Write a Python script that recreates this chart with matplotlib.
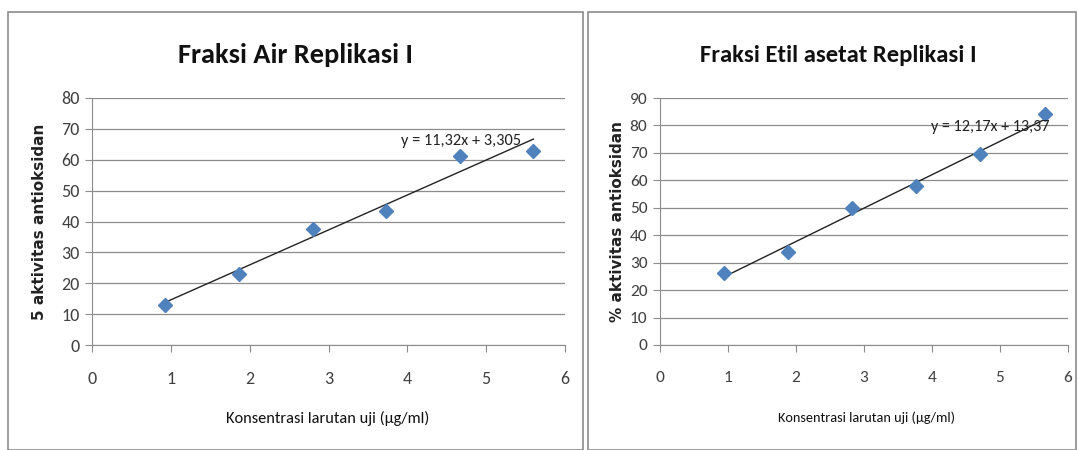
import matplotlib
matplotlib.use("Agg")
import matplotlib.pyplot as plt
from matplotlib import font_manager
from matplotlib.patches import Rectangle
import numpy as np

# ---- data ----
x_air = [0.93, 1.87, 2.80, 3.73, 4.67, 5.60]
y_air = [13.0, 23.0, 37.5, 43.5, 61.3, 62.7]
slope_air, icpt_air = 11.32, 3.305
eq_air = "y = 11,32x + 3,305"

x_etil = [0.94, 1.88, 2.83, 3.77, 4.71, 5.66]
y_etil = [26.3, 34.0, 50.0, 58.0, 69.5, 84.0]
slope_etil, icpt_etil = 12.17, 13.37
eq_etil = "y = 12,17x + 13,37"

title_air = "Fraksi Air Replikasi I"
title_etil = "Fraksi Etil asetat Replikasi I"
ylabel_air = "5 aktivitas antioksidan"
ylabel_etil = "% aktivitas antioksidan"
xlabel = "Konsentrasi larutan uji (µg/ml)"

# ---- font selection: prefer a condensed sans (Calibri-like) ----
ttf = font_manager.fontManager.ttflist
names = {f.name for f in ttf}
cond = {f.name for f in ttf if str(f.stretch) in
        ("condensed", "semi-condensed", "extra-condensed", "ultra-condensed")}
FAM, STRETCH = "Lato", "normal"
picked = False
for cand in ["Carlito", "Liberation Sans Narrow", "Arial Narrow",
             "Roboto Condensed", "Open Sans Condensed"]:
    if cand in names:
        FAM, STRETCH, picked = cand, "normal", True
        break
if not picked:
    for cand in ["Noto Sans", "Open Sans", "Roboto", "Liberation Sans", "DejaVu Sans"]:
        if cand in cond:
            FAM, STRETCH, picked = cand, "condensed", True
            break
if not picked and "Lato" not in names:
    FAM = "DejaVu Sans"
FONT = [FAM, "DejaVu Sans"]

fig = plt.figure(figsize=(10.78, 4.5), dpi=100)
W, H = 1078, 450

# chart frames
for (x0, x1) in [(8, 583), (588, 1076)]:
    fig.patches.append(Rectangle((x0 / W, 0), (x1 - x0) / W, 1 - 12 / H,
                                 transform=fig.transFigure, fill=False,
                                 edgecolor="#8c8c8c", linewidth=1.2))

fit_texts = []  # (text, target width px)

def make(ax, xs, ys, m, b, eq, eqpos, eqw, ymax, title, titlew, ylabel,
         title_x, ylab_x, xlab_x, xlabw, ticksize):
    ax.set_xlim(0, 6)
    ax.set_ylim(0, ymax)
    ax.set_xticks(range(0, 7))
    ax.set_yticks(range(0, ymax + 1, 10))
    ax.grid(axis="y", color="#8c8c8c", linewidth=0.9)
    ax.set_axisbelow(True)
    for s in ["top", "right"]:
        ax.spines[s].set_visible(False)
    for s in ["left", "bottom"]:
        ax.spines[s].set_color("#8c8c8c")
    ax.tick_params(axis="both", colors="#8c8c8c", length=5, labelcolor="#404040",
                   labelsize=ticksize)
    for lab in ax.get_xticklabels() + ax.get_yticklabels():
        lab.set_family(FONT)
        lab.set_stretch(STRETCH)
    ax.tick_params(axis="x", pad=14)
    ax.tick_params(axis="y", pad=4)
    xl = np.array([min(xs), max(xs)])
    ax.plot(xl, m * xl + b, color="#222222", linewidth=1.0, zorder=2)
    ax.plot(xs, ys, linestyle="none", marker="D", markersize=7,
            color="#4F81BD", zorder=3)
    t = ax.text(eqpos[0], eqpos[1], eq, fontsize=12, family=FONT, stretch=STRETCH,
                color="#222222", ha="left", va="center", zorder=4)
    fit_texts.append((t, eqw))
    t = fig.text(title_x / W, 1 - 55 / H, title, fontsize=20, family=FONT,
                 stretch=STRETCH, fontweight="semibold",
                 ha="center", va="center", color="#111111")
    fit_texts.append((t, titlew))
    fig.text(ylab_x / W, 1 - 222 / H, ylabel, fontsize=11, fontweight="bold",
             family=["DejaVu Sans"], rotation=90, ha="center", va="center",
             color="#222222")
    t = fig.text(xlab_x / W, 1 - 418 / H, xlabel, fontsize=11.5, family=FONT,
                 stretch=STRETCH, ha="center", va="center", color="#111111")
    fit_texts.append((t, xlabw))

ax1 = fig.add_axes([92 / W, 1 - 345 / H, 473 / W, 247 / H])
make(ax1, x_air, y_air, slope_air, icpt_air, eq_air, (3.92, 66.0), 120, 80,
     title_air, 236, ylabel_air, 296, 40, 328, 205, 13)

ax2 = fig.add_axes([660 / W, 1 - 345 / H, 408 / W, 247 / H])
make(ax2, x_etil, y_etil, slope_etil, icpt_etil, eq_etil, (3.99, 79.5), 118, 90,
     title_etil, 277, ylabel_etil, 838, 617, 866, 177, 12.5)

fig.canvas.draw()
r = fig.canvas.get_renderer()
for t, w in fit_texts:
    cur = t.get_window_extent(r).width
    if cur > 0:
        t.set_fontsize(t.get_fontsize() * w / cur)

fig.savefig("out.png", dpi=100)
